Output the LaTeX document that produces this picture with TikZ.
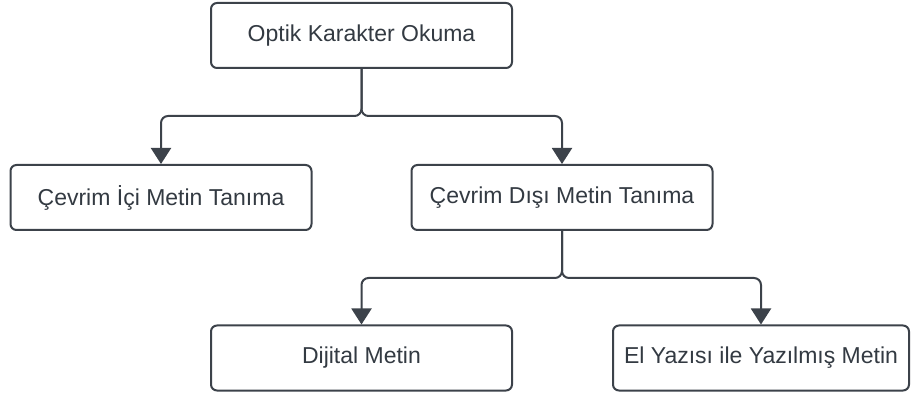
\documentclass[tikz,border=0pt]{standalone}
\usepackage{fontspec}
\setmainfont{Liberation Sans}
\usetikzlibrary{arrows.meta}
\definecolor{edgegray}{HTML}{3C424A}
\definecolor{textgray}{HTML}{333A42}
\begin{document}
\begin{tikzpicture}[x=1pt,y=-1pt,
  box/.style={draw=edgegray, line width=2pt, rounded corners=6pt, fill=white,
    minimum width=301pt, minimum height=65pt, inner sep=0pt,
    font=\fontsize{23}{27}\selectfont, text=textgray},
  link/.style={draw=edgegray, line width=2pt, rounded corners=7pt,
    -{Triangle[width=20pt,length=16pt]}}]
  \useasboundingbox (0,0) rectangle (911,398);

  % boxes of the hierarchy
  \node[box] (ocr)     at (361.5,35.5) {Optik Karakter Okuma};
  \node[box] (online)  at (161,197.5)  {Çevrim İçi Metin Tanıma};
  \node[box] (offline) at (562,197.5)  {Çevrim Dışı Metin Tanıma};
  \node[box] (digital) at (361.5,358)  {Dijital Metin};
  \node[box, minimum width=296pt] (hand) at (761,358) {El Yazısı ile Yazılmış Metin};

  % branch points of the connectors
  \coordinate (j1) at (361.5,116);
  \coordinate (j2) at (562,278);

  \draw[link] (ocr.south) -- (j1) -| (online.north);
  \draw[link] (ocr.south) -- (j1) -| (offline.north);
  \draw[link] (offline.south) -- (j2) -| (digital.north);
  \draw[link] (offline.south) -- (j2) -| (hand.north);
\end{tikzpicture}
\end{document}
